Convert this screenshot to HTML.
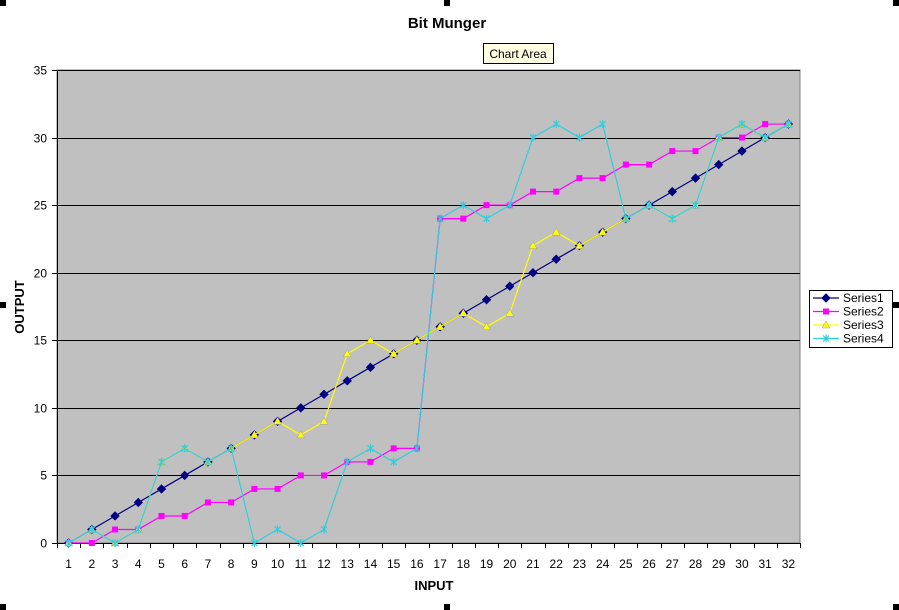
<!DOCTYPE html>
<html><head><meta charset="utf-8"><style>
body{margin:0;background:#fff;font-family:"Liberation Sans",Arial,sans-serif}
svg{display:block}
</style></head><body>
<svg id="chart" width="899" height="610">
<rect x="0" y="0" width="899" height="610" fill="#fff"/>
<text x="447" y="28" text-anchor="middle" font-size="15" font-weight="bold">Bit Munger</text>
<g>
<rect x="483.5" y="43.5" width="70" height="20" fill="#ffffe1" stroke="#000"/>
<text x="518" y="58" text-anchor="middle" font-size="12">Chart Area</text>
</g>
<rect x="57" y="70" width="743" height="473" fill="#c0c0c0" stroke="#808080"/>
<g id="grid"></g><g id="axes"></g><g id="series"></g>
<text x="434" y="590" text-anchor="middle" font-size="13" font-weight="bold">INPUT</text>
<text transform="translate(24,307) rotate(-90)" text-anchor="middle" font-size="13" font-weight="bold">OUTPUT</text>
<g>
<rect x="809.5" y="290.5" width="83" height="57" fill="#fff" stroke="#000"/>
<g id="legend"></g>
</g>
<g fill="#000">
<rect x="0" y="0" width="6" height="6"/><rect x="444" y="0" width="6" height="6"/><rect x="893" y="0" width="6" height="6"/>
<rect x="0" y="302" width="6" height="6"/><rect x="893" y="302" width="6" height="6"/>
<rect x="0" y="604" width="6" height="6"/><rect x="444" y="604" width="6" height="6"/><rect x="893" y="604" width="6" height="6"/>
</g>
</svg>
<script>
const categories=[1,2,3,4,5,6,7,8,9,10,11,12,13,14,15,16,17,18,19,20,21,22,23,24,25,26,27,28,29,30,31,32];
const series1=[0,1,2,3,4,5,6,7,8,9,10,11,12,13,14,15,16,17,18,19,20,21,22,23,24,25,26,27,28,29,30,31];
const series2=[0,0,1,1,2,2,3,3,4,4,5,5,6,6,7,7,24,24,25,25,26,26,27,27,28,28,29,29,30,30,31,31];
const series3=[0,1,0,1,6,7,6,7,8,9,8,9,14,15,14,15,16,17,16,17,22,23,22,23,24,25,24,25,30,31,30,31];
const series4=[0,1,0,1,6,7,6,7,0,1,0,1,6,7,6,7,24,25,24,25,30,31,30,31,24,25,24,25,30,31,30,31];
const yTicks=[0,5,10,15,20,25,30,35];
const seriesNames=["Series1","Series2","Series3","Series4"];
const NS="http://www.w3.org/2000/svg";
const X0=57,X1=800,Y0=543,Y1=70,YMAX=35;
const xs=i=>X0+(i+0.5)*(X1-X0)/categories.length;
const ys=v=>Y0-v/YMAX*(Y0-Y1);
function mk(tag,attrs,parent){const e=document.createElementNS(NS,tag);for(const k in attrs)e.setAttribute(k,attrs[k]);parent.appendChild(e);return e;}
const grid=document.getElementById('grid'),axes=document.getElementById('axes'),sg=document.getElementById('series'),lg=document.getElementById('legend');
yTicks.forEach(t=>{const y=Math.round(ys(t))+0.5;
 if(t>0){const l=mk('line',{x1:X0,x2:X1,y1:y,y2:y,stroke:'#000'},grid);
 
 }
 mk('line',{x1:X0-5,x2:X0,y1:y,y2:y,stroke:'#000'},axes);
 const tx=mk('text',{x:47,y:y+4,'text-anchor':'end','font-size':12},axes);tx.textContent=t;
 
 
});
mk('line',{x1:X0+0.5,x2:X0+0.5,y1:Y1,y2:Y0,stroke:'#000'},axes);
mk('line',{x1:X0,x2:X1,y1:Y0+0.5,y2:Y0+0.5,stroke:'#000'},axes);
categories.forEach((c,i)=>{const bx=Math.round(X0+i*(X1-X0)/categories.length)+0.5;
 mk('line',{x1:bx,x2:bx,y1:Y0,y2:Y0+5,stroke:'#000'},axes);
 const tx=mk('text',{x:xs(i),y:568,'text-anchor':'middle','font-size':12},axes);tx.textContent=c;
 
 
});
mk('line',{x1:X1+0.5,x2:X1+0.5,y1:Y0,y2:Y0+5,stroke:'#000'},axes);
function marker(type,x,y,col,g){
 if(type==0)return mk('polygon',{points:`${x},${y-4} ${x+4},${y} ${x},${y+4} ${x-4},${y}`,fill:col,stroke:col},g);
 if(type==1)return mk('rect',{x:x-3,y:y-3,width:6,height:6,fill:col},g);
 if(type==2)return mk('polygon',{points:`${x},${y-4} ${x+4},${y+3} ${x-4},${y+3}`,fill:col,stroke:'#999','stroke-width':0.5},g);
 return mk('path',{d:`M${x-3},${y-3}L${x+3},${y+3}M${x+3},${y-3}L${x-3},${y+3}M${x},${y-4}L${x},${y+4}`,stroke:col,'stroke-width':1.2},g);
}
const allSeries=[series1,series2,series3,series4];
const colors=['#000080','#ff00ff','#ffff00','#33ccdd'];
allSeries.forEach((s,k)=>{const g=mk('g',{},sg);
 
 
 mk('polyline',{points:s.map((v,i)=>xs(i)+','+ys(v)).join(' '),fill:'none',stroke:colors[k],'stroke-width':1.2},g);
 s.forEach((v,i)=>{const m=marker(k,xs(i),ys(v),colors[k],g);
  
  });
});
seriesNames.forEach((n,k)=>{const y=298+k*13.5;const g=mk('g',{},lg);
 
 
 mk('line',{x1:813,x2:839,y1:y,y2:y,stroke:colors[k],'stroke-width':1.2},g);
 marker(k,826,y,colors[k],g);
 const t=mk('text',{x:843,y:y+4,'font-size':12},g);t.textContent=n;});
</script>
</body></html>
